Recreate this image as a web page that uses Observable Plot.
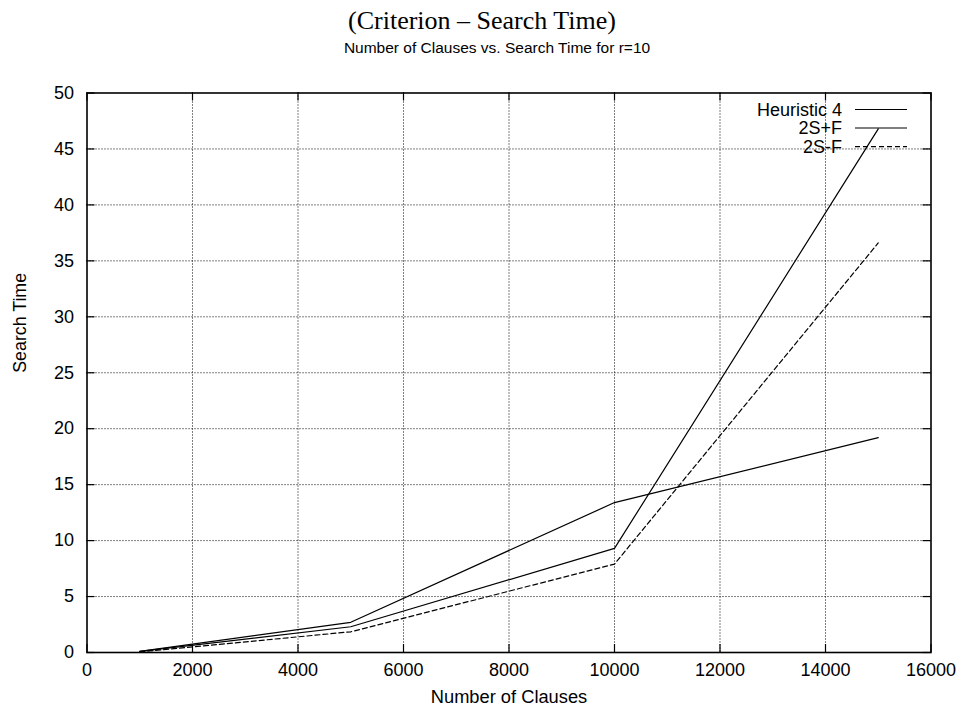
<!DOCTYPE html>
<html><head><meta charset="utf-8">
<script src="https://cdn.jsdelivr.net/npm/d3@7"></script>
<script src="https://cdn.jsdelivr.net/npm/@observablehq/plot@0.6"></script>
<style>
body{margin:0;background:#fff;}
#wrap{position:relative;width:964px;height:713px;font-family:"Liberation Sans",Arial,sans-serif;color:#000;}
#title{height:38px;line-height:42px;text-align:center;font-family:"Liberation Serif","Times New Roman",serif;font-size:26px;}
#subtitle{height:22px;line-height:20px;text-align:center;font-size:15.5px;padding-left:30px;box-sizing:border-box;}
#legend{position:absolute;left:0;top:0;pointer-events:none;}
</style></head><body>
<div id="wrap">
<div id="title">(Criterion – Search Time)</div>
<div id="subtitle">Number of Clauses vs. Search Time for r=10</div>
<div id="chart"></div>
<svg id="legend" width="964" height="200"></svg>
</div>
<script>
const clauses = [1000, 5000, 10000, 15000];
const heuristic4 = [0.1, 2.7, 13.4, 19.2];
const twoSPlusF = [0.1, 2.3, 9.3, 46.8];
const twoSMinusF = [0.05, 1.85, 7.9, 36.6];
const seriesNames = ["Heuristic 4", "2S+F", "2S-F"];
const seriesDash = [null, null, "5,3"];
const xTicks = [0, 2000, 4000, 6000, 8000, 10000, 12000, 14000, 16000];
const yTicks = [0, 5, 10, 15, 20, 25, 30, 35, 40, 45, 50];
const xLabel = "Number of Clauses";
const yLabel = "Search Time";

const seriesValues = [heuristic4, twoSPlusF, twoSMinusF];
const rows = seriesNames.flatMap((name, s) =>
  clauses.map((c, i) => ({series: name, x: c, y: seriesValues[s][i]})));

const W = 964, H = 653;
const mL = 86.5, mR = 33.5, mT = 32.5, mB = 61;
const innerW = W - mL - mR, innerH = H - mT - mB;
const tickLen = 8;
const FONT = '"Liberation Sans", Arial, sans-serif';

const chart = Plot.plot({
  width: W, height: H,
  marginLeft: mL, marginRight: mR, marginTop: mT, marginBottom: mB,
  style: {fontFamily: FONT, background: "#fff", color: "#000"},
  x: {domain: [0, 16000]},
  y: {domain: [0, 50]},
  marks: [
    Plot.gridX(xTicks.slice(1, -1), {stroke: "#000", strokeOpacity: 1, strokeWidth: 1, strokeDasharray: "1,2"}),
    Plot.gridY(yTicks.slice(1, -1), {stroke: "#000", strokeOpacity: 1, strokeWidth: 1, strokeDasharray: "1,2"}),
    Plot.tickX(xTicks, {x: d => d, insetTop: innerH - tickLen, stroke: "#000", strokeWidth: 1.2}),
    Plot.tickX(xTicks, {x: d => d, insetBottom: innerH - tickLen, stroke: "#000", strokeWidth: 1.2}),
    Plot.tickY(yTicks, {y: d => d, insetRight: innerW - tickLen, stroke: "#000", strokeWidth: 1.2}),
    Plot.tickY(yTicks, {y: d => d, insetLeft: innerW - tickLen, stroke: "#000", strokeWidth: 1.2}),
    ...seriesNames.map((name, s) => Plot.line(rows.filter(r => r.series === name), {
      x: "x", y: "y", stroke: "#000", strokeWidth: 1.2,
      strokeDasharray: seriesDash[s] ?? undefined
    })),
    Plot.frame({stroke: "#000", strokeWidth: 1.6}),
    Plot.axisX(xTicks, {tickSize: 0, tickPadding: 10.5, fontSize: 18, label: null, tickFormat: d => String(d)}),
    Plot.axisY(yTicks, {tickSize: 0, tickPadding: 13, fontSize: 18, label: null, tickFormat: d => String(d)}),
    Plot.text([xLabel], {text: d => d, frameAnchor: "bottom", lineAnchor: "middle", dy: 45, fontSize: 18.3}),
    Plot.text([yLabel], {text: d => d, frameAnchor: "left", lineAnchor: "middle", dx: -67, rotate: -90, fontSize: 17.8})
  ]
});
document.getElementById("chart").appendChild(chart);

// legend (inside plot area, top-right)
const leg = d3.select("#legend");
const rowY = [109.5, 128, 146.7];
seriesNames.forEach((name, i) => {
  leg.append("text").attr("x", 842).attr("y", rowY[i]).attr("dy", "0.36em")
    .attr("text-anchor", "end").attr("font-size", 18)
    .attr("font-family", FONT).text(name);
  leg.append("line").attr("x1", 855).attr("x2", 907).attr("y1", rowY[i]).attr("y2", rowY[i])
    .attr("stroke", "#000").attr("stroke-width", 1.2)
    .attr("stroke-dasharray", seriesDash[i]);
});
</script>
</body></html>
